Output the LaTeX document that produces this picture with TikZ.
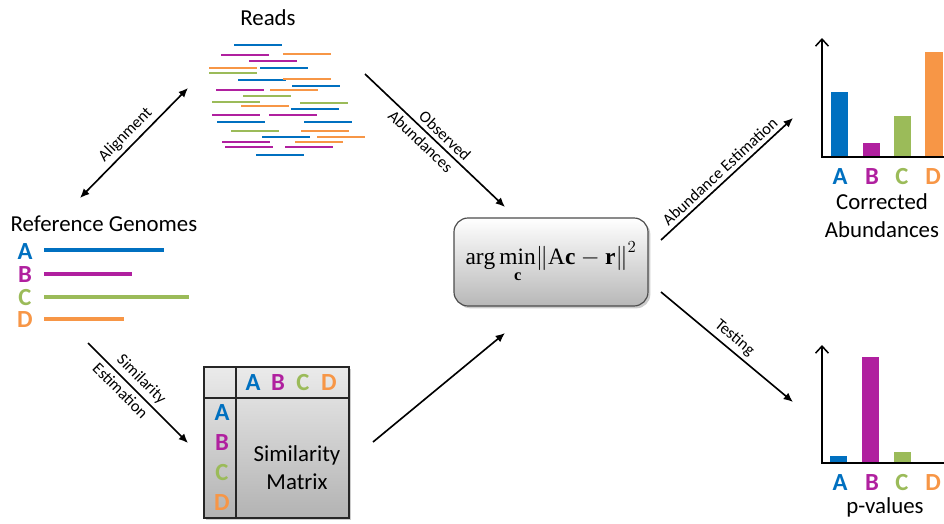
\documentclass[tikz,border=0pt]{standalone}
\usepackage{fontspec}
\setmainfont{Carlito}
\setmathrm{Liberation Serif}
\usetikzlibrary{positioning, arrows.meta, shadows}
\definecolor{gblue}{HTML}{0070C0}
\definecolor{gpurple}{HTML}{B0209F}
\definecolor{ggreen}{HTML}{9BBB59}
\definecolor{gorange}{HTML}{F79646}
\tikzset{
  title/.style={font=\fontsize{19.5}{24}\selectfont, align=center, inner sep=0pt},
  letter/.style={font=\fontsize{21}{22}\selectfont\bfseries, inner sep=0pt},
  flowlabel/.style={font=\fontsize{14}{16}\selectfont, sloped},
  flow/.style={->, line width=1.4pt},
  read/.style={line width=2.5pt},
  genome/.style={line width=3pt},
  axis/.style={line width=1.3pt, -{Straight Barb[length=6pt,width=11pt]}},
  formula/.style={rectangle, rounded corners=12pt, draw=black!70, line width=1pt,
                  top color=white, bottom color=black!28,
                  minimum width=5.82cm, minimum height=2.64cm,
                  drop shadow={shadow xshift=2pt, shadow yshift=-2pt, opacity=0.4},
                  font=\fontsize{20}{24}\selectfont},
  matrixbox/.style={rectangle, draw=black!85, line width=1.3pt,
                    top color=black!8, bottom color=black!30,
                    minimum width=4.35cm, minimum height=4.53cm,
                    drop shadow={shadow xshift=2pt, shadow yshift=-2pt, opacity=0.4}},
}

\begin{document}
\begin{tikzpicture}[x=0.03cm, y=-0.03cm, >={Latex[length=8pt,width=7pt]}]
  \useasboundingbox (0,0) rectangle (944,523);

  % sequencing reads
  \node[title] (reads) at (268,18) {Reads};
  \foreach \xa/\ya/\col in {234/45/gblue, 221/55/gpurple, 283/54/gorange,
      249/61/gpurple, 209/68/gorange, 260/68/gblue, 209/73/ggreen,
      238/80/gblue, 283/79/gorange, 292/86/gblue, 216/90/gpurple,
      270/90/gorange, 243/96/ggreen, 212/102/ggreen, 300/103/ggreen,
      241/106/gorange, 291/109/gblue, 212/115/gpurple, 269/115/gpurple,
      217/122/gblue, 304/122/gblue, 231/131/ggreen, 301/131/gorange,
      262/137/gblue, 317/137/gorange, 222/142/gpurple, 295/142/gorange,
      225/147/gpurple, 285/147/gpurple, 256/155/gblue}
    \draw[read, \col] (\xa,\ya) -- ++(48,0);

  % reference genomes
  \node[title] (refs) at (104,224) {Reference Genomes};
  \node[letter, gblue]   (gA) at (25,252) {A};
  \node[letter, gpurple] (gB) at (25,275) {B};
  \node[letter, ggreen]  (gC) at (25,298) {C};
  \node[letter, gorange] (gD) at (25,320) {D};
  \draw[genome, gblue]   (44,250) -- (164,250);
  \draw[genome, gpurple] (44,274) -- (132,274);
  \draw[genome, ggreen]  (44,297) -- (189,297);
  \draw[genome, gorange] (44,319) -- (124,319);

  % optimisation problem
  \node[formula] (opt) at (551,262)
    {$\displaystyle\arg\mathop{\mathrm{min}}\limits_{\rule{0pt}{12pt}\mathbf{c}}\!\left\|\mathrm{A}\mathbf{c}-\mathbf{r}\right\|^{2}$};

  % similarity matrix
  \node[matrixbox] (simmat) at (276.5,442.5) {};
  \draw[line width=1.3pt, black!85] ([xshift=0.99cm]simmat.north west) -- ([xshift=0.99cm]simmat.south west);
  \draw[line width=1.3pt, black!85] ([yshift=-0.96cm]simmat.north west) -- ([yshift=-0.96cm]simmat.north east);
  \node[letter, gblue]   (mA) at (253,383) {A};
  \node[letter, gpurple] (mB) at (278,383) {B};
  \node[letter, ggreen]  (mC) at (303,383) {C};
  \node[letter, gorange] (mD) at (329,383) {D};
  \node[letter, gblue]   (rA) at (222,413) {A};
  \node[letter, gpurple] (rB) at (222,443) {B};
  \node[letter, ggreen]  (rC) at (222,473) {C};
  \node[letter, gorange] (rD) at (222,503) {D};
  \node[title] (simtext) at (297,468) {Similarity\\Matrix};

  % corrected abundances
  \fill[gblue]   (831,157) rectangle (848,92);
  \fill[gpurple] (863,157) rectangle (880,143);
  \fill[ggreen]  (894,157) rectangle (911,116);
  \fill[gorange] (925,157) rectangle (943,52);
  \draw[axis] (944,157) -- (822,157) -- (822,38);
  \node[letter, gblue]   (cA) at (840,177) {A};
  \node[letter, gpurple] (cB) at (872,177) {B};
  \node[letter, ggreen]  (cC) at (902,177) {C};
  \node[letter, gorange] (cD) at (933,177) {D};
  \node[title] (corr) at (882,216) {Corrected\\Abundances};

  % p-values
  \fill[gblue]   (830,463) rectangle (847,456);
  \fill[gpurple] (862,463) rectangle (879,357);
  \fill[ggreen]  (894,463) rectangle (911,452);
  \draw[axis] (944,463) -- (822,463) -- (822,345);
  \node[letter, gblue]   (pA) at (840,483) {A};
  \node[letter, gpurple] (pB) at (872,483) {B};
  \node[letter, ggreen]  (pC) at (902,483) {C};
  \node[letter, gorange] (pD) at (933,483) {D};
  \node[title] (pval) at (885,507) {p-values};

  % arrows
  \coordinate (al1) at (80,198);    \coordinate (al2) at (188,88);
  \coordinate (ob1) at (365,74);    \coordinate (ob2) at (505,207);
  \coordinate (se1) at (88,343);    \coordinate (se2) at (188,443);
  \coordinate (sm1) at (373,442);   \coordinate (sm2) at (505,333);
  \coordinate (ae1) at (661,240);   \coordinate (ae2) at (793,118);
  \coordinate (te1) at (661,292);   \coordinate (te2) at (793,402);
  \draw[flow, <->] (al1) -- node[flowlabel, above] {Alignment} (al2);
  \draw[flow] (ob1) -- node[flowlabel, above, pos=0.52] {Observed}
                       node[flowlabel, below, pos=0.45] {Abundances} (ob2);
  \draw[flow] (se1) -- node[flowlabel, above, pos=0.45] {Similarity}
                       node[flowlabel, below, pos=0.4] {Estimation} (se2);
  \draw[flow] (sm1) -- (sm2);
  \draw[flow] (ae1) -- node[flowlabel, above] {Abundance Estimation} (ae2);
  \draw[flow] (te1) -- node[flowlabel, above] {Testing} (te2);
\end{tikzpicture}
\end{document}
